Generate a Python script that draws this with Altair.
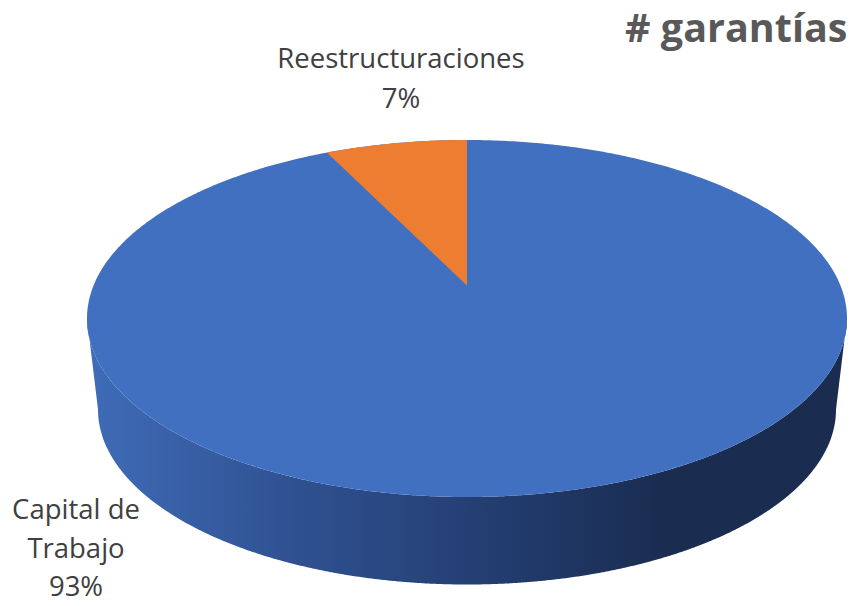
import numpy as np
import pandas as pd
import altair as alt

categories = ["Capital de Trabajo", "Reestructuraciones"]
shares = [93, 7]
slice_colors = ["#4270c0", "#ed7d31"]
title_text = "# garantías"
label_lines = [["Capital de", "Trabajo", "93%"], ["Reestructuraciones", "7%"]]

PAD_TOP = 8
W, H = 842, 588
CX, CY, RX, RY = 459.0, 302.5, 380.0, 178.5   # disc on the page, plot-area pixels
x_dom = [-CX / RX, (W - CX) / RX]
y_dom = [-(H - CY) / RY, CY / RY]
BASE_RX, BASE_RY, BASE_CY = 369 / 380, 175 / 178.5, -91 / 178.5
APEX_Y = 33 / 178.5                            # perspective shift of the pie centre

xs = alt.X("x:Q", scale=alt.Scale(domain=x_dom, nice=False, zero=False), axis=None)
ys = alt.Y("y:Q", scale=alt.Scale(domain=y_dom, nice=False, zero=False), axis=None)
y2 = alt.Y2("y2:Q")

t = np.linspace(0, np.pi, 361)
ux = -np.cos(t)
top = pd.DataFrame({"x": ux, "y": np.sin(t), "y2": -np.sin(t)})

# side wall: between the top rim's lower half and the base's lower half
sx = np.unique(np.concatenate([ux, BASE_RX * ux]))
rim = -np.sqrt(np.clip(1 - sx**2, 0, 1))
base = BASE_CY - BASE_RY * np.sqrt(np.clip(1 - (sx / BASE_RX) ** 2, 0, 1))
outer = np.abs(sx) > BASE_RX
base[outer] = BASE_CY * (1 - np.abs(sx[outer])) / (1 - BASE_RX)
side = pd.DataFrame({"x": sx, "y": base, "y2": rim})

# orange slice: the share's angle, seen in perspective
k = np.sqrt((1 - APEX_Y) / (1 + APEX_Y))
phi = 2 * np.arctan(k * np.tan(np.radians(shares[1] * 3.6) / 2)) * 1.03
a = np.linspace(0, phi, 60)
wx, wy = -np.sin(a), np.cos(a)
edge_x, edge_y = wx[-1], wy[-1]
wedge = pd.DataFrame({
    "x": wx,
    "y": wy,
    "y2": APEX_Y + (edge_y - APEX_Y) * wx / edge_x,
})


def px(v):
    return (v - 8 - CX) / RX


def py(v):
    return (CY - (v - 8 - PAD_TOP)) / RY


labels = pd.DataFrame({
    "x": [px(76)] * 3 + [px(401)] * 2,
    "y": [py(510.5), py(549.5), py(587.5), py(59.5), py(99.5)],
    "t": label_lines[0] + label_lines[1],
})
title_df = pd.DataFrame({"x": [px(847.5)], "y": [py(30)], "t": [title_text]})

side_layer = alt.Chart(side).mark_area(
    interpolate="linear",
    color=alt.Gradient(
        gradient="linear", x1=0, x2=1, y1=0, y2=0,
        stops=[
            alt.GradientStop(offset=0, color="#3f6cb8"),
            alt.GradientStop(offset=0.28, color="#2f5090"),
            alt.GradientStop(offset=0.55, color="#223c6e"),
            alt.GradientStop(offset=0.76, color="#1a2d50"),
            alt.GradientStop(offset=1, color="#1a2d50"),
        ],
    ),
).encode(x=xs, y=ys, y2=y2)
top_layer = alt.Chart(top).mark_area(color=slice_colors[0], interpolate="linear").encode(x=xs, y=ys, y2=y2)
wedge_layer = alt.Chart(wedge).mark_area(color=slice_colors[1], interpolate="linear").encode(x=xs, y=ys, y2=y2)
label_layer = alt.Chart(labels).mark_text(
    font="Open Sans", fontSize=27.5, color="#404040", align="center", baseline="middle"
).encode(x=xs, y=ys, text="t:N")
title_layer = alt.Chart(title_df).mark_text(
    font="Open Sans", fontSize=39.5, fontWeight="bold", color="#595959", align="right", baseline="middle"
).encode(x=xs, y=ys, text="t:N")

chart = (
    alt.layer(side_layer, top_layer, wedge_layer, label_layer, title_layer)
    .properties(
        width=W, height=H,
        padding={"top": PAD_TOP, "left": 0, "right": 0, "bottom": 0},
        autosize=alt.AutoSizeParams(type="none"), background="white",
    )
    .configure_view(stroke=None)
)
chart.save("out.html", embed_options={"renderer": "svg", "actions": False})
